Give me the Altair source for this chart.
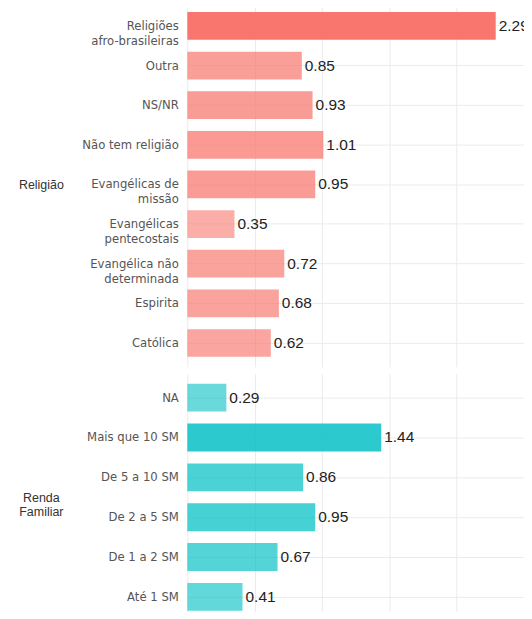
import altair as alt
import pandas as pd

rel_cats = ["Religiões\nafro-brasileiras", "Outra", "NS/NR", "Não tem religião",
            "Evangélicas de\nmissão", "Evangélicas\npentecostais",
            "Evangélica não\ndeterminada", "Espirita", "Católica"]
rel_vals = [2.29, 0.85, 0.93, 1.01, 0.95, 0.35, 0.72, 0.68, 0.62]

renda_cats = ["NA", "Mais que 10 SM", "De 5 a 10 SM", "De 2 a 5 SM", "De 1 a 2 SM", "Até 1 SM"]
renda_vals = [0.29, 1.44, 0.86, 0.95, 0.67, 0.41]

grid_ticks = [0, 0.25, 0.5, 0.75, 1.0, 1.25, 1.5, 1.75, 2.0, 2.25, 2.5]

FONT = "Liberation Sans"
LABEL_FONT = "DejaVu Sans"


def panel(cats, vals, color, title, height):
    df = pd.DataFrame({"cat": cats, "val": vals})
    y = alt.Y(
        "cat:N",
        sort=cats,
        scale=alt.Scale(paddingInner=0.3, paddingOuter=0.25),
        axis=alt.Axis(
            title=title,
            titleAngle=0,
            titleAlign="center",
            titleBaseline="middle",
            titleX=-147,
            titleY=height / 2,
            titleFont=FONT,
            titleFontSize=12.5,
            titleFontWeight="normal",
            titleColor="#333333",
            titleLineHeight=14,
            labelExpr="split(datum.label, '\\n')",
            labelFont=LABEL_FONT,
            labelFontSize=11.7,
            labelColor="#555555",
            labelLineHeight=15,
            labelPadding=9,
            labelLimit=220,
            ticks=False,
            domain=False,
            grid=True,
            gridColor="#ebebeb",
        ),
    )
    x = alt.X(
        "val:Q",
        scale=alt.Scale(domain=[0, 2.5], nice=False),
        axis=alt.Axis(values=grid_ticks, labels=False, ticks=False, domain=False,
                      title=None, grid=True, gridColor="#ebebeb"),
    )
    base = alt.Chart(df)
    bars = base.mark_bar(color=color).encode(
        x=x,
        y=y,
        opacity=alt.Opacity("val:Q", scale=alt.Scale(domain=[0, 2.29], range=[0.53, 1.0]), legend=None),
    )
    text = base.mark_text(align="left", baseline="middle", dx=3, fontSize=15.5,
                          font=FONT, color="#222222", clip=True).encode(
        x="val:Q",
        y=alt.Y("cat:N", sort=cats),
        text=alt.Text("val:Q", format=".2f"),
    )
    return alt.layer(bars, text).properties(width=338, height=height)


p1 = panel(rel_cats, rel_vals, "#F8766D", "Religião", 366)
p2 = panel(renda_cats, renda_vals, "#00BFC4", ["Renda", "Familiar"], 248)

chart = alt.vconcat(p1, p2, spacing=7).properties(
    padding={"left": 10, "top": -7, "right": 0, "bottom": -10}
).configure_view(stroke=None)

chart.save("out.html", embed_options={"renderer": "svg", "actions": False})
